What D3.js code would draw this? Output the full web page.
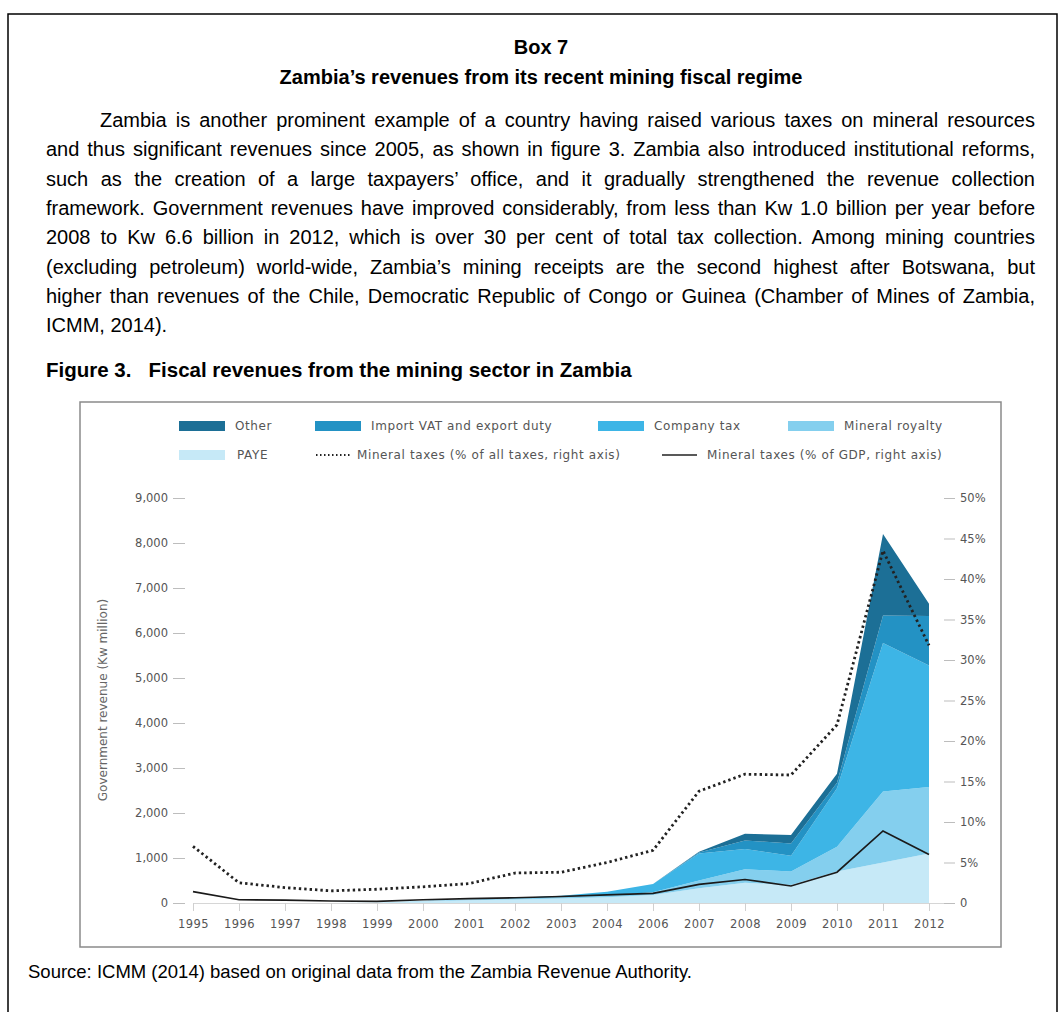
<!DOCTYPE html>
<html>
<head>
<meta charset="utf-8">
<script src="https://cdn.jsdelivr.net/npm/d3@7"></script>
<style>
  html, body { margin:0; padding:0; background:#fff; }
  body { width:1061px; height:1012px; position:relative; overflow:hidden; font-family:"Liberation Sans", Arial, sans-serif; color:#000; }
  .line { position:absolute; left:46px; width:989px; font-size:20px; line-height:20px; white-space:nowrap; }
  .just { text-align:justify; text-align-last:justify; white-space:normal; }
  .head { position:absolute; left:0; width:1082px; text-align:center; font-weight:bold; font-size:20px; line-height:20px; }
  svg { position:absolute; left:0; top:0; }
</style>
</head>
<body>
<svg id="chart" width="1061" height="1012"></svg>
<script>
// ---------------- data ----------------
const years = ["1995","1996","1997","1998","1999","2000","2001","2002","2003","2004","2006","2007","2008","2009","2010","2011","2012"];
const paye        = [0,0,0,0,10,40,60,80,100,130,180,330,450,400,700,900,1100];
const royalty     = [0,0,0,0,0,10,15,20,30,40,60,170,300,300,550,1580,1480];
const companyTax  = [0,0,0,0,0,0,5,10,30,80,180,600,450,350,1300,3300,2700];
const importVat   = [0,0,0,0,0,0,0,0,0,0,0,20,190,270,120,610,1100];
const other       = [0,0,0,0,0,0,0,0,0,0,0,20,150,190,200,1810,270];
const pctAllTaxes = [7.0,2.5,1.9,1.5,1.7,2.0,2.4,3.7,3.8,5.0,6.5,13.8,15.9,15.8,22.0,43.5,31.8];
const pctGdp      = [1.4,0.4,0.35,0.25,0.2,0.4,0.55,0.65,0.8,1.0,1.2,2.3,2.9,2.1,3.8,8.9,6.0];
const leftTicks   = [0,1000,2000,3000,4000,5000,6000,7000,8000,9000];
const rightTicks  = [0,5,10,15,20,25,30,35,40,45,50];
const seriesNames = ["PAYE","Mineral royalty","Company tax","Import VAT and export duty","Other"];
const seriesColors= ["#c6e9f7","#84cfee","#3db5e6","#2392c4","#1c6f96"];

const bodyLines = [
 "Zambia is another prominent example of a country having raised various taxes on mineral resources",
 "and thus significant revenues since 2005, as shown in figure 3. Zambia also introduced institutional reforms,",
 "such as the creation of a large taxpayers’ office, and it gradually strengthened the revenue collection",
 "framework. Government revenues have improved considerably, from less than Kw 1.0 billion per year before",
 "2008 to Kw 6.6 billion in 2012, which is over 30 per cent of total tax collection. Among mining countries",
 "(excluding petroleum) world-wide, Zambia’s mining receipts are the second highest after Botswana, but",
 "higher than revenues of the Chile, Democratic Republic of Congo or Guinea (Chamber of Mines of Zambia,",
 "ICMM, 2014)."
];

// ---------------- text ----------------
const body = d3.select("body");
body.append("div").attr("class","head").style("top","37px").text("Box 7");
body.append("div").attr("class","head").style("top","67px").text("Zambia’s revenues from its recent mining fiscal regime");
bodyLines.forEach((t,i)=>{
  const d = body.append("div").attr("class","line" + (i < bodyLines.length-1 ? " just" : ""))
    .style("top", (110 + i*29.3) + "px").text(t);
  if (i === 0) d.style("left","100px").style("width","935px");
});
body.append("div").style("position","absolute").style("left","46px").style("top","360px")
  .style("font-weight","bold").style("font-size","20.5px").style("line-height","20px").style("white-space","pre")
  .text("Figure 3.   Fiscal revenues from the mining sector in Zambia");
body.append("div").style("position","absolute").style("left","28px").style("top","962px")
  .style("font-size","18.5px").style("line-height","20px").style("white-space","nowrap")
  .text("Source: ICMM (2014) based on original data from the Zambia Revenue Authority.");

// ---------------- chart ----------------
const svg = d3.select("#chart");
svg.append("path").attr("d","M8,1013 V14 H1057 V1013").attr("fill","none").attr("stroke","#000").attr("stroke-width",1.5);
svg.append("rect").attr("x",80).attr("y",402).attr("width",921).attr("height",545)
  .attr("fill","#fff").attr("stroke","#8a8a8a").attr("stroke-width",1.5);

const x = d3.scalePoint().domain(years).range([193,929]);
const yL = d3.scaleLinear().domain([0,9000]).range([903,498]);
const yR = d3.scaleLinear().domain([0,50]).range([903,498]);

const table = years.map((yr,i)=>({year:yr, "PAYE":paye[i], "Mineral royalty":royalty[i], "Company tax":companyTax[i],
  "Import VAT and export duty":importVat[i], "Other":other[i]}));
const stacked = d3.stack().keys(seriesNames)(table);
const area = d3.area().x(d=>x(d.data.year)).y0(d=>yL(d[0])).y1(d=>yL(d[1]));

const axisFont = "'DejaVu Sans',sans-serif";
svg.append("line").attr("x1",193).attr("x2",955).attr("y1",903.5).attr("y2",903.5).attr("stroke","#d6d6d6").attr("stroke-width",1);

svg.append("g").selectAll("path").data(stacked).join("path")
  .attr("d",area).attr("fill",(d,i)=>seriesColors[i]);

const styleText = sel => sel.attr("font-family",axisFont).attr("font-size",11.5).attr("fill","#555");
const gl = svg.append("g").attr("transform","translate(185,0)")
  .call(d3.axisLeft(yL).tickValues(leftTicks).tickSize(12).tickPadding(5).tickFormat(d3.format(",")));
gl.select(".domain").remove();
gl.selectAll("line").attr("stroke","#bdbdbd");
styleText(gl.selectAll("text"));
const gr = svg.append("g").attr("transform","translate(944,0)")
  .call(d3.axisRight(yR).tickValues(rightTicks).tickSize(11).tickPadding(5).tickFormat(d=>d===0?"0":d+"%"));
gr.select(".domain").remove();
gr.selectAll("line").attr("stroke","#bdbdbd");
styleText(gr.selectAll("text"));
const gb = svg.append("g").attr("transform","translate(0,903)")
  .call(d3.axisBottom(x).tickSize(8).tickPadding(9));
gb.select(".domain").remove();
gb.selectAll("line").attr("stroke","#d0d0d0");
styleText(gb.selectAll("text")).attr("letter-spacing","0.4px");

svg.append("text").attr("transform","translate(107,700) rotate(-90)").attr("text-anchor","middle")
  .attr("font-family",axisFont).attr("font-size",12).attr("fill","#666").text("Government revenue (Kw million)");

const lineAll = d3.line().x((d,i)=>x(years[i])).y(d=>yR(d));
svg.append("path").datum(pctAllTaxes).attr("d",lineAll).attr("fill","none")
  .attr("stroke","#222").attr("stroke-width",2.8).attr("stroke-dasharray","2.4,3");
svg.append("path").datum(pctGdp).attr("d",lineAll).attr("fill","none")
  .attr("stroke","#1a1a1a").attr("stroke-width",1.7);

const lg = svg.append("g").attr("font-family",axisFont).attr("font-size",12).attr("fill","#555").attr("letter-spacing","0.6px");
const row1 = [
  {name:"Other", c:seriesColors[4], x:179},
  {name:"Import VAT and export duty", c:seriesColors[3], x:315},
  {name:"Company tax", c:seriesColors[2], x:598},
  {name:"Mineral royalty", c:seriesColors[1], x:788}
];
row1.forEach(r=>{
  lg.append("rect").attr("x",r.x).attr("y",421).attr("width",46).attr("height",10).attr("fill",r.c);
  lg.append("text").attr("x",r.x+56).attr("y",430).text(r.name);
});
lg.append("rect").attr("x",179).attr("y",450).attr("width",46).attr("height",10).attr("fill",seriesColors[0]);
lg.append("text").attr("x",237).attr("y",459).text("PAYE");
lg.append("line").attr("x1",316).attr("x2",350).attr("y1",455).attr("y2",455).attr("stroke","#222")
  .attr("stroke-width",2).attr("stroke-dasharray","1.5,2.5");
lg.append("text").attr("x",357).attr("y",459).text("Mineral taxes (% of all taxes, right axis)");
lg.append("line").attr("x1",662).attr("x2",697).attr("y1",455).attr("y2",455).attr("stroke","#222").attr("stroke-width",1.5);
lg.append("text").attr("x",707).attr("y",459).text("Mineral taxes (% of GDP, right axis)");
</script>
</body>
</html>
